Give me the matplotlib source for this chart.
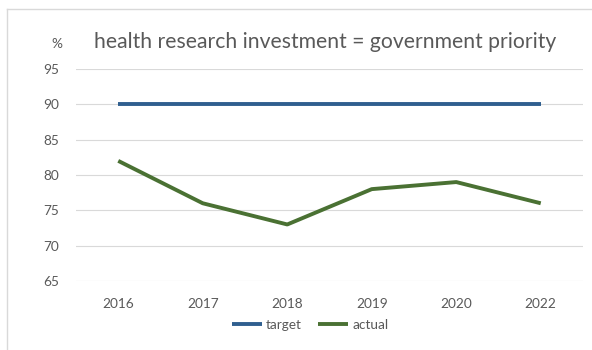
import matplotlib.pyplot as plt
from matplotlib.lines import Line2D

years = ['2016', '2017', '2018', '2019', '2020', '2022']
target = [90, 90, 90, 90, 90, 90]
actual = [82, 76, 73, 78, 79, 76]

plt.rcParams['font.family'] = ['Lato', 'DejaVu Sans']
grey = '#595959'

fig = plt.figure(figsize=(5.92, 3.5), dpi=100)
W, H = 592, 350
ax = fig.add_axes([76 / W, 1 - 281 / H, (583 - 76) / W, (281 - 69) / H])

x = range(len(years))
ax.plot(x, target, color='#2F5F8F', lw=2.8, solid_capstyle='butt', label='target')
ax.plot(x, actual, color='#4A7133', lw=2.8, solid_capstyle='butt', label='actual')

ax.set_xlim(-0.5, len(years) - 0.5)
ax.set_ylim(65, 95)
ax.set_yticks(range(65, 96, 5))
ax.set_xticks(list(x))
ax.set_xticklabels(years)
ax.grid(axis='y', color='#d9d9d9', lw=0.8)
ax.set_axisbelow(True)
for s in ax.spines.values():
    s.set_visible(False)
ax.tick_params(length=0, colors=grey, labelsize=9.8)
ax.tick_params(axis='x', pad=12)
ax.tick_params(axis='y', pad=12)

fig.text(0.5 * (98 + 553) / W, 1 - 42 / H, 'health research investment = government priority',
         ha='center', va='center', fontsize=15.2, color=grey)
fig.text(57 / W, 1 - 44 / H, '%', ha='center', va='center', fontsize=9.8, color=grey)

fig.legend(loc='center', bbox_to_anchor=(310 / W, 1 - 325 / H), ncol=2, frameon=False,
           fontsize=9.8, labelcolor=grey, handlelength=2.2, handletextpad=0.3, columnspacing=1.2)

# chart area border
fig.add_artist(Line2D([7 / W, 7 / W], [0, 1 - 9 / H], color='#d9d9d9', lw=1, transform=fig.transFigure))
fig.add_artist(Line2D([7 / W, 1], [1 - 9 / H, 1 - 9 / H], color='#d9d9d9', lw=1, transform=fig.transFigure))

fig.savefig('out.png', dpi=100)
